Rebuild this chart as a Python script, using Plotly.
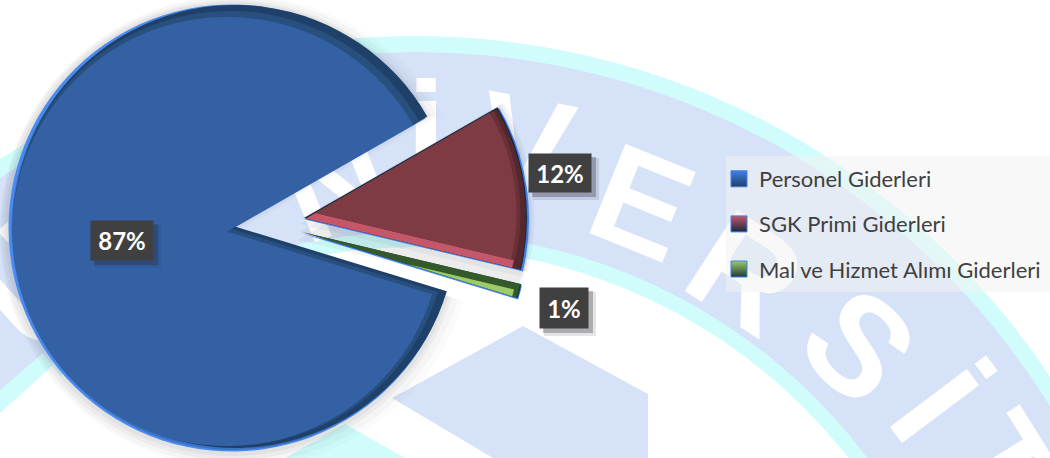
import plotly.graph_objects as go

W, H = 1050, 458
PAD = 24  # the figure is taller than the window by this much at top and bottom, and the page is lifted by it
FH = H + 2 * PAD

# ---- data ----
categories = ["Personel Giderleri", "SGK Primi Giderleri", "Mal ve Hizmet Alımı Giderleri"]
values = [87, 12, 1]
watermark_letters = ["Ü", "N", "İ", "V", "E", "R", "S", "İ", "T"]

# ---- styles ----
CLEAR = "rgba(0,0,0,0)"
ROTATION = 107
# per slice: stacked layers (cx, cy, r, colour) in pixels
slice_layers = {
    0: [(232, 232, 242, "rgba(0,0,0,0.015)"),
        (232, 231, 236, "rgba(0,0,0,0.025)"),
        (232, 230, 230, "rgba(0,0,0,0.035)"),
        (232, 229, 227, "rgba(0,0,0,0.04)"),
        (232, 228, 223.5, "#4A8BEF"),
        (233, 228.5, 221.5, "#3A72C4"),
        (235, 226.5, 221.5, "#1F4068"),
        (230, 228.5, 217.5, "#28507F"),
        (227, 231.5, 214.5, "#3461A4")],
    1: [(298, 240, 226, "rgba(0,0,0,0.035)"),
        (299, 232, 228, "rgba(0,0,0,0.04)"),
        (300, 224, 230, "rgba(30,50,90,0.05)"),
        (302, 218, 232, "rgba(30,50,90,0.06)"),
        (303, 218, 228, "rgba(30,50,90,0.07)"),
        (305, 219.5, 224, "#3F80E8"),
        (304, 218, 223, "#16293F"),
        (306, 218.5, 220, "#55282E"),
        (306, 218.5, 212, "#C4586A"),
        (315.5, 213, 205, "#6A3038"),
        (315.5, 213, 201, "#7F3B44")],
    2: [(302, 233.5, 226, "#3F80E8"),
        (302, 232, 225.5, "#1B3A34"),
        (304, 232.5, 222, "#34592A"),
        (407, 264, 110, "#9CCB68")],
}
legend_marker = ["#3F80E8", "#C4586A", "#9CCB68"]
legend_dark = ["#1F4068", "#16293F", "#1F3A3A"]
label_boxes = [(122, 240.5), (560, 173), (564, 308)]
label_size = [(60, 37), (60, 36), (46, 38)]
# letter: centre x, centre y, angle
letter_pos = [(30, 280, -42), (330, 170, -22), (426, 135, 0), (527, 133, 11),
              (647, 190, 22), (753, 262, 33), (868, 336, 44), (945, 398, 53), (1012, 458, 58)]


def domain(cx, cy, r):
    cy = cy + PAD
    return dict(x=[max(0, (cx - r) / W), (cx + r) / W], y=[1 - (cy + r) / FH, 1 - (cy - r) / FH])


def paper(x, y):
    return x / W, 1 - (y + PAD) / FH


fig = go.Figure()

for idx, layers in slice_layers.items():
    for cx, cy, r, color in layers:
        colors = [CLEAR] * len(values)
        colors[idx] = color
        fig.add_trace(go.Pie(
            labels=categories, values=values, sort=False, direction="clockwise",
            rotation=ROTATION, domain=domain(cx, cy, r), textinfo="none",
            hoverinfo="skip", showlegend=False,
            marker=dict(colors=colors, line=dict(width=0)),
        ))

for i, name in enumerate(categories):
    fig.add_trace(go.Scatter(
        x=[None], y=[None], mode="markers", name=name, legendgroup=name,
        marker=dict(symbol="square", size=16, color=legend_marker[i],
                    gradient=dict(type="vertical", color=legend_dark[i]),
                    line=dict(color="#3F80E8", width=1)),
    ))


def rect(x0, y0, x1, y1, fill, layer="below"):
    a, b = paper(x0, y0)
    c, d = paper(x1, y1)
    return dict(type="rect", xref="paper", yref="paper", x0=a, y0=d, x1=c, y1=b,
                fillcolor=fill, line=dict(width=0), layer=layer)


def circle(cx, cy, r, fill):
    a, b = paper(cx - r, cy - r)
    c, d = paper(cx + r, cy + r)
    return dict(type="circle", xref="paper", yref="paper", x0=a, y0=d, x1=c, y1=b,
                fillcolor=fill, line=dict(width=0), layer="below")


def poly(points, fill):
    p = []
    for k, (x, y) in enumerate(points):
        px, py = paper(x, y)
        p.append(("M" if k == 0 else "L") + f"{px:.5f},{py:.5f}")
    return dict(type="path", xref="paper", yref="paper", path=" ".join(p) + " Z",
                fillcolor=fill, line=dict(width=0), layer="below")


BLUE = "#D6E2F8"
CYAN = "#D0FCFC"
shapes = [
    circle(415, 798, 762, CYAN),
    circle(415, 798, 746, BLUE),
    circle(415, 798, 566, CYAN),
    circle(415, 798, 551, "#FFFFFF"),
    poly([(0, 413), (53, 365), (90, 420), (60, 458), (0, 458)], "#FFFFFF"),
    poly([(0, 390), (43, 353), (53, 365), (0, 413)], CYAN),
    poly([(345, 424), (405, 458), (285, 458)], CYAN),
    poly([(523, 326), (648, 394), (648, 458), (493, 458), (392, 398)], BLUE),
]
for letter, (x, y, ang) in zip(watermark_letters, letter_pos):
    s = rect(x - 80, y - 80, x + 80, y + 80, CLEAR)
    s["label"] = dict(text=letter, textangle=ang, textposition="middle center",
                      font=dict(family="Liberation Sans", size=140, color="#FFFFFF", weight="bold"))
    shapes.append(s)

# legend backdrop
shapes.append(rect(726, 156, 1050, 292, "rgba(243,243,243,0.55)", layer="above"))

annotations = []
for i, (x, y) in enumerate(label_boxes):
    w, h = label_size[i]
    shapes.append(rect(x - w / 2 + 3, y - h / 2 + 3, x + w / 2 + 9, y + h / 2 + 9, "rgba(40,40,60,0.12)", layer="above"))
    shapes.append(rect(x - w / 2 + 2, y - h / 2 + 2, x + w / 2 + 6, y + h / 2 + 6, "rgba(40,40,60,0.3)", layer="above"))
    px, py = paper(x, y)
    annotations.append(dict(
        xref="paper", yref="paper", x=px, y=py, xanchor="center", yanchor="middle",
        text=f"<b>{values[i]}%</b>", showarrow=False, width=w, height=h, align="center", valign="middle",
        bgcolor="#404040", font=dict(family="Lato", size=24, color="#FFFFFF"),
    ))

lx, ly = paper(719, 158)
fig.update_layout(
    width=W, height=FH, margin=dict(l=0, r=0, t=0, b=0),
    paper_bgcolor="#FFFFFF", plot_bgcolor=CLEAR,
    xaxis=dict(visible=False), yaxis=dict(visible=False),
    shapes=shapes, annotations=annotations,
    showlegend=True,
    legend=dict(x=lx, y=ly, xanchor="left", yanchor="top", bgcolor=CLEAR, borderwidth=0,
                traceorder="grouped", tracegroupgap=13.5,
                font=dict(family="Lato", size=22, color="#404040")),
)

fig.write_html("out.html", post_script=(
    "document.documentElement.style.overflow='hidden';"
    "document.body.style.overflow='hidden';"
    f"document.body.style.margin='-{PAD}px 0 0 0';"
))
